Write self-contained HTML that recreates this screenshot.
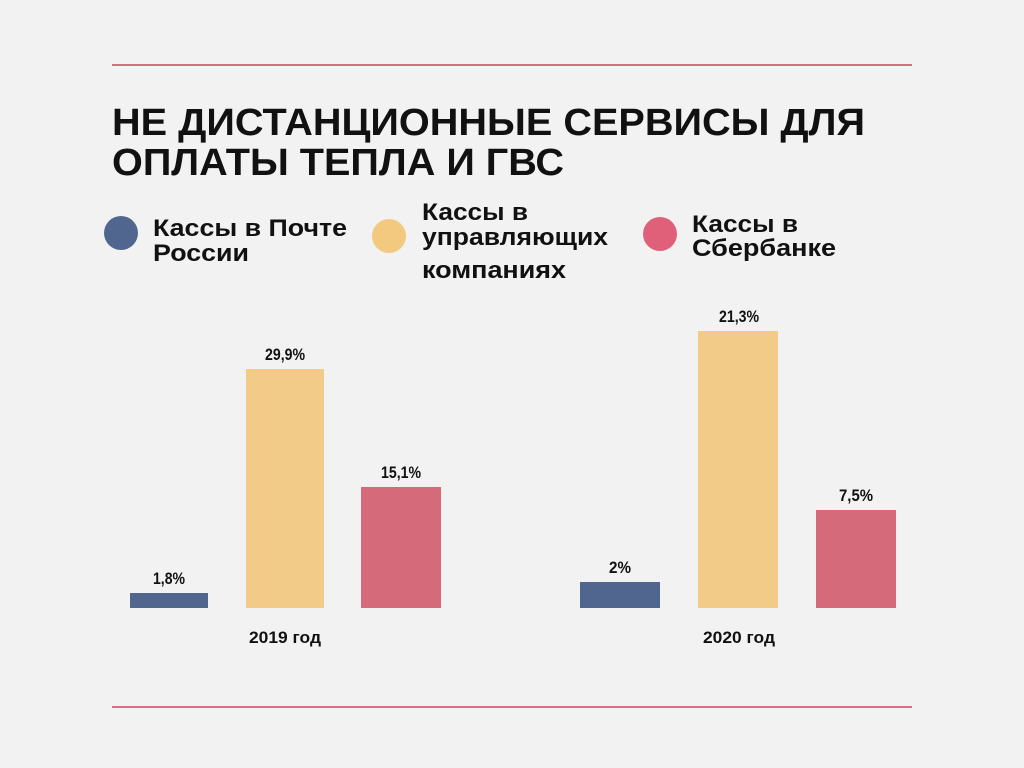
<!DOCTYPE html>
<html><head><meta charset="utf-8"><style>
html,body{margin:0;padding:0;background:#f2f2f2;}
svg{display:block}
text{font-family:"Liberation Sans","Noto Sans CJK SC",sans-serif;font-weight:bold;fill:#111}
</style></head><body>
<svg width="1024" height="768" viewBox="0 0 1024 768">
<rect width="1024" height="768" fill="#f2f2f2"/>
<line x1="112" y1="65" x2="912" y2="65" stroke="#d4707f" stroke-width="2"/>
<line x1="112" y1="707" x2="912" y2="707" stroke="#d4707f" stroke-width="2"/>
<text x="112" y="135" font-size="38" textLength="753" lengthAdjust="spacingAndGlyphs">НЕ ДИСТАНЦИОННЫЕ СЕРВИСЫ ДЛЯ</text>
<text x="112" y="175" font-size="38" textLength="452" lengthAdjust="spacingAndGlyphs">ОПЛАТЫ ТЕПЛА И ГВС</text>
<circle cx="121" cy="233" r="17" fill="#51668f"/>
<circle cx="389" cy="236" r="17" fill="#f2c97f"/>
<circle cx="660" cy="234" r="17" fill="#e0607a"/>
<g font-size="24">
<text x="153" y="236" textLength="194" lengthAdjust="spacingAndGlyphs">Кассы в Почте</text>
<text x="153" y="261" textLength="96" lengthAdjust="spacingAndGlyphs">России</text>
<text x="422" y="220" textLength="106" lengthAdjust="spacingAndGlyphs">Кассы в</text>
<text x="422" y="245" textLength="186" lengthAdjust="spacingAndGlyphs">управляющих</text>
<text x="422" y="278" textLength="144" lengthAdjust="spacingAndGlyphs">компаниях</text>
<text x="692" y="232" textLength="106" lengthAdjust="spacingAndGlyphs">Кассы в</text>
<text x="692" y="256" textLength="144" lengthAdjust="spacingAndGlyphs">Сбербанке</text>
</g>
<rect x="130" y="593" width="78" height="15" fill="#51668f"/>
<rect x="246" y="369" width="78" height="239" fill="#f1cb87"/>
<rect x="361" y="487" width="80" height="121" fill="#d56b7a"/>
<rect x="580" y="582" width="80" height="26" fill="#51668f"/>
<rect x="698" y="331" width="80" height="277" fill="#f1cb87"/>
<rect x="816" y="510" width="80" height="98" fill="#d56b7a"/>
<g font-size="17" text-anchor="middle" fill="#333">
<text x="169" y="584" textLength="32" lengthAdjust="spacingAndGlyphs">1,8%</text>
<text x="285" y="360" textLength="40" lengthAdjust="spacingAndGlyphs">29,9%</text>
<text x="401" y="478" textLength="40" lengthAdjust="spacingAndGlyphs">15,1%</text>
<text x="620" y="573" textLength="22" lengthAdjust="spacingAndGlyphs">2%</text>
<text x="739" y="322" textLength="40" lengthAdjust="spacingAndGlyphs">21,3%</text>
<text x="856" y="501" textLength="34" lengthAdjust="spacingAndGlyphs">7,5%</text>
<text x="285" y="643" textLength="72" lengthAdjust="spacingAndGlyphs">2019 год</text>
<text x="739" y="643" textLength="72" lengthAdjust="spacingAndGlyphs">2020 год</text>
</g>
</svg>
</body></html>
